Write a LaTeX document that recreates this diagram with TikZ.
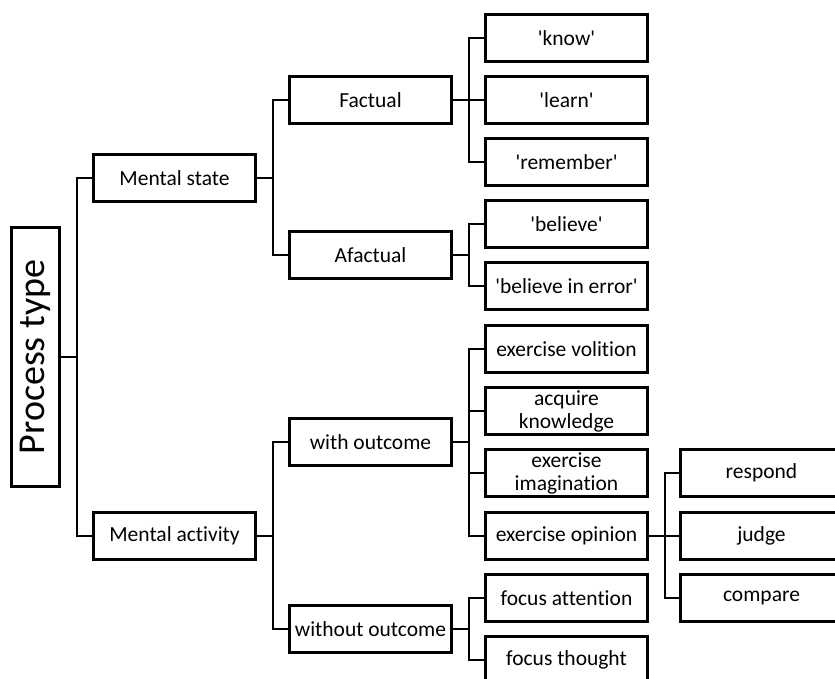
\documentclass[tikz,border=0pt]{standalone}
\usepackage{fontspec}
\setmainfont{Carlito}[Ligatures={NoCommon}]
\begin{document}
\begin{tikzpicture}[x=1pt,y=-1pt,
  every node/.style={font=\fontsize{21.5}{23}\selectfont, text=black},
  box/.style={draw, line width=2.6pt, minimum width=162pt, minimum height=46.5pt, inner sep=1pt, align=center},
  link/.style={line width=2.6pt},
]
\useasboundingbox (0,0) rectangle (835,679);
\clip (0,0) rectangle (835,679);
\node[draw, line width=2.6pt, rotate=90, minimum width=259pt, minimum height=48.5pt, inner sep=0pt, font=\fontsize{38}{42}\selectfont] (pt) at (35.5,357) {Process type};

\node[box] (ms) at (174.5,178) {Mental state};
\node[box] (ma) at (174.5,536) {Mental activity};

\node[box] (fa) at (370.5,100) {Factual};
\node[box] (af) at (370.5,255) {Afactual};
\node[box] (wo) at (370.5,442) {with outcome};
\node[box] (wn) at (370.5,629) {without outcome};

\node[box] (kn) at (566.5,38) {\textquotesingle know\textquotesingle};
\node[box] (le) at (566.5,100) {\textquotesingle learn\textquotesingle};
\node[box] (re) at (566.5,162) {\textquotesingle remember\textquotesingle};
\node[box] (be) at (566.5,224) {\textquotesingle believe\textquotesingle};
\node[box] (bi) at (566.5,286) {\textquotesingle believe in error\textquotesingle};
\node[box] (ev) at (566.5,349) {exercise volition};
\node[box] (ak) at (566.5,411) {acquire\\knowledge};
\node[box] (ei) at (566.5,473) {exercise\\imagination};
\node[box] (eo) at (566.5,536) {exercise opinion};
\node[box] (fat) at (566.5,598) {focus attention};
\node[box] (ft) at (566.5,660) {focus thought};

\node[box] (rs) at (761.5,473) {respond};
\node[box] (jg) at (761.5,536) {judge};
\node[box] (cp) at (761.5,598) {compare};

\foreach \c in {ms, ma}
  \draw[link] (pt.south) -- ++(16,0) |- (\c.west);
\foreach \p/\c in {ms/fa, ms/af, ma/wo, ma/wn,
  fa/kn, fa/le, fa/re, af/be, af/bi,
  wo/ev, wo/ak, wo/ei, wo/eo, wn/fat, wn/ft,
  eo/rs, eo/jg, eo/cp}
  \draw[link] (\p.east) -- ++(16,0) |- (\c.west);
\end{tikzpicture}
\end{document}
